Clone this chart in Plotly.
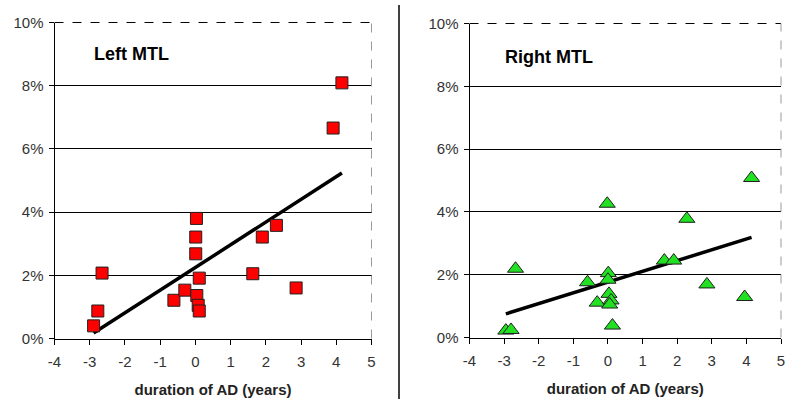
import numpy as np
import plotly.graph_objects as go

# ---- data ----
left_x = [-2.89, -2.77, -2.65, -0.61, -0.30, 0.03, 0.01, 0.01, 0.11, 0.04, 0.08, 0.11,
          1.63, 1.90, 2.30, 2.86, 3.91, 4.16]
left_y = [0.40, 0.87, 2.07, 1.21, 1.53, 3.80, 3.21, 2.68, 1.91, 1.36, 1.05, 0.87,
          2.05, 3.21, 3.58, 1.60, 6.66, 8.09]

right_x = [-2.95, -2.80, -2.67, -0.59, -0.31, -0.02, 0.01, 0.00, 0.03, 0.09, 0.05, 0.13,
           1.63, 1.90, 2.28, 2.86, 3.95, 4.15]
right_y = [0.22, 0.24, 2.19, 1.76, 1.11, 4.26, 2.05, 1.84, 1.39, 1.18, 1.05, 0.38,
           2.45, 2.45, 3.78, 1.69, 1.29, 5.08]

panel_titles = ["Left MTL", "Right MTL"]
x_title = "duration of AD (years)"
x_ticks = [-4, -3, -2, -1, 0, 1, 2, 3, 4, 5]
x_ticktext = ["-4", "-3", "-2", "-1", "0", "1", "2", "3", "4", "5"]
y_ticks = [0, 2, 4, 6, 8, 10]
y_ticktext = ["0%", "2%", "4%", "6%", "8%", "10%"]

W, H = 786, 399
FONT = "Liberation Sans"

def px_x(p):
    return p / W

def px_y(p):
    return 1 - p / H

fig = go.Figure()

panels = [
    dict(x=left_x, y=left_y, sym="square", color="#ff0000", size=12, xa="x", ya="y",
         dom_x=[px_x(54.5), px_x(371.5)], dom_y=[px_y(338.5), px_y(22.5)],
         title=panel_titles[0], tx=92, ty=54),
    dict(x=right_x, y=right_y, sym="triangle-up", color="#22e022", size=14, xa="x2", ya="y2",
         dom_x=[px_x(469.5), px_x(781)], dom_y=[px_y(337.5), px_y(23.5)],
         title=panel_titles[1], tx=503, ty=57),
]

shapes = []
annotations = []
for i, p in enumerate(panels):
    xs = np.array(p["x"])
    ys = np.array(p["y"])
    slope, icpt = np.polyfit(xs, ys, 1)
    lx = np.array([xs.min(), xs.max()])
    fig.add_trace(go.Scatter(x=lx, y=slope * lx + icpt, mode="lines",
                             line=dict(color="black", width=3.5),
                             xaxis=p["xa"], yaxis=p["ya"], showlegend=False,
                             hoverinfo="skip"))
    fig.add_trace(go.Scatter(x=xs, y=ys, mode="markers",
                             marker=dict(symbol=p["sym"], size=p["size"], color=p["color"],
                                         line=dict(color="#202020", width=1)),
                             xaxis=p["xa"], yaxis=p["ya"], showlegend=False))
    suffix = "" if i == 0 else "2"
    fig.layout["xaxis" + suffix] = dict(
        domain=p["dom_x"], anchor="y" + suffix, range=[-4, 5],
        tickmode="array", tickvals=x_ticks, ticktext=x_ticktext, automargin=False,
        showgrid=False, zeroline=False, showline=True, linecolor="black", linewidth=1,
        ticks="outside", ticklen=5, tickcolor="black", ticklabelstandoff=4,
        tickfont=dict(family=FONT, size=15, color="#333333"),
        title=dict(text="<b>" + x_title + "</b>", standoff=15,
                   font=dict(family=FONT, size=15, color="#222222")),
    )
    fig.layout["yaxis" + suffix] = dict(
        domain=p["dom_y"], anchor="x" + suffix, range=[0, 10],
        tickmode="array", tickvals=y_ticks, ticktext=y_ticktext, automargin=False,
        showgrid=True, gridcolor="black", gridwidth=1,
        zeroline=False, showline=True, linecolor="black", linewidth=1,
        ticks="outside", ticklen=5, tickcolor="black", ticklabelstandoff=2,
        tickfont=dict(family=FONT, size=15, color="#333333"),
    )
    xd = "x" + suffix + " domain"
    yd = "y" + suffix + " domain"
    shapes.append(dict(type="line", xref=xd, yref=yd, x0=0, x1=1, y0=1, y1=1,
                       line=dict(color="black", width=1, dash="dash")))
    shapes.append(dict(type="line", xref=xd, yref=yd, x0=1, x1=1, y0=0, y1=1,
                       line=dict(color="#999999", width=1, dash="dash")))
    annotations.append(dict(text="<b>" + p["title"] + "</b>", xref="paper", yref="paper",
                            x=px_x(p["tx"]), y=px_y(p["ty"]), xanchor="left", yanchor="middle",
                            showarrow=False, font=dict(family=FONT, size=18, color="black")))

shapes.append(dict(type="line", xref="paper", yref="paper", x0=px_x(399), x1=px_x(399),
                   y0=0, y1=px_y(5), line=dict(color="black", width=1.5)))

fig.update_layout(width=W, height=H, margin=dict(l=0, r=0, t=0, b=0),
                  paper_bgcolor="white", plot_bgcolor="white",
                  shapes=shapes, annotations=annotations, showlegend=False)

fig.write_html("out.html", config={"displayModeBar": False},
               post_script="document.body.style.margin='0';document.body.style.overflow='hidden';")
